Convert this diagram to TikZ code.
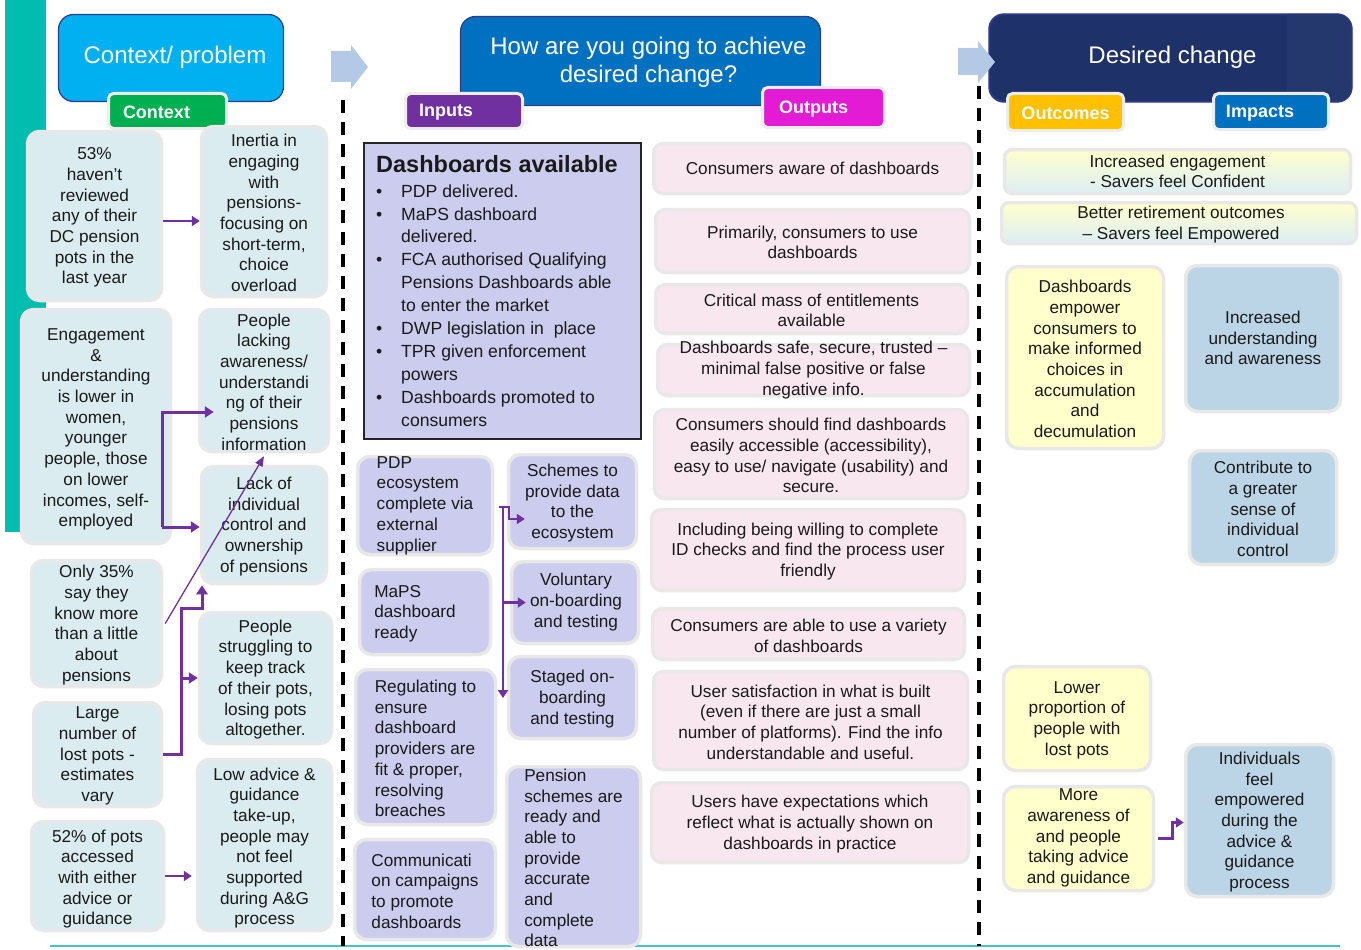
\documentclass[tikz,border=0pt]{standalone}
\usepackage{fontspec}
\setmainfont{Liberation Sans}
\usetikzlibrary{arrows.meta}
\definecolor{tealbar}{HTML}{00BDB0}
\definecolor{tealline}{HTML}{40C8C0}
\definecolor{cyanh}{HTML}{00B0F0}
\definecolor{blueh}{HTML}{0070C0}
\definecolor{navyh}{HTML}{1F3169}
\definecolor{navyh2}{HTML}{24386E}
\definecolor{hborder}{HTML}{2E3A8A}
\definecolor{greent}{HTML}{00B050}
\definecolor{purp}{HTML}{7030A0}
\definecolor{magt}{HTML}{E31BD4}
\definecolor{yelt}{HTML}{FFC000}
\definecolor{ctxfill}{HTML}{DAECEF}
\definecolor{lav}{HTML}{CCCCEE}
\definecolor{pinkf}{HTML}{F9E7EF}
\definecolor{yelf}{HTML}{FFFFCC}
\definecolor{impf}{HTML}{BCD5E6}
\definecolor{gradb}{HTML}{DCEEF4}
\definecolor{arrowblue}{HTML}{B3C9E5}
\definecolor{bgray}{HTML}{E8E8E8}
\definecolor{tgray}{HTML}{EDEDED}
\definecolor{txtcol}{HTML}{1A1A1A}
\newcommand\bodyfont{\fontsize{17.2}{20.7}\selectfont}
\newcommand\mybul{\makebox[25pt][l]{•}}
\newcommand\myind{\hspace*{25pt}}
\newcommand\mybx[8]{%
  \pgfmathsetmacro\bxw{#6-#4-3}%
  \pgfmathsetmacro\bxh{#7-#5-3}%
  \pgfmathsetmacro\bxx{(#4+#6)/2}%
  \pgfmathsetmacro\bxy{(#5+#7)/2}%
  \node[#2,minimum width=\bxw pt,minimum height=\bxh pt] (#1) at (\bxx,\bxy) {};%
  \node[#3] (#1-t) at (#1.center) {#8};%
}
\begin{document}
\begin{tikzpicture}[x=1pt,y=-1pt,
  sbox/.style={rounded corners=12pt, draw=bgray, line width=3.5pt, inner sep=0pt},
  sctx/.style={sbox, fill=ctxfill},
  sinp/.style={sbox, fill=lav},
  sout/.style={sbox, fill=pinkf, rounded corners=10pt},
  syel/.style={sbox, fill=yelf},
  simp/.style={sbox, fill=impf},
  sgrad/.style={sbox, top color=yelf, bottom color=gradb, rounded corners=8pt},
  shdr/.style={rounded corners=15pt, draw=hborder, line width=1.2pt, inner sep=0pt},
  stab/.style={rounded corners=5pt, draw=tgray, line width=3pt, inner sep=0pt},
  sdbox/.style={draw=black!85, line width=2pt, fill=lav, inner sep=0pt},
  stxt/.style={align=center, inner sep=0pt, font=\bodyfont, text=txtcol, yshift=-1.5pt},
  stxtl/.style={stxt, align=left},
  shtxt/.style={align=center, inner sep=0pt, font=\fontsize{24}{28}\selectfont, text=white},
  sttxt/.style={inner sep=0pt, font=\fontsize{18}{20}\selectfont\bfseries, text=white, yshift=-1.5pt},
  parr/.style={draw=purp, line width=3pt, -{Triangle[length=9pt,width=11pt]}},
  parr2/.style={draw=purp, line width=2.5pt, -{Triangle[length=8pt,width=10pt]}},
  pthin/.style={draw=purp, line width=1.3pt, -{Triangle[length=10pt,width=8pt]}},
  dashln/.style={draw=black, line width=3.5pt, dash pattern=on 13pt off 9pt},
  blockarr/.style={fill=arrowblue}
]
\useasboundingbox (0,0) rectangle (1361,950);
% background bars
\fill[tealbar] (5,0) rectangle (46,532);
\draw[tealline, line width=2pt] (50,946) -- (1340,946);
% headers
\mybx{hctx}{shdr,fill=cyanh}{shtxt,xshift=4pt,yshift=1pt}{57}{13}{285}{103}{Context/ problem}
\mybx{hmid}{shdr,fill=blueh}{shtxt,xshift=8pt,yshift=-1pt}{459}{15}{822}{107}{How are you going to achieve\\desired change?}
\mybx{hdes}{shdr,fill=navyh}{shtxt,xshift=2pt,yshift=1pt}{988}{13}{1353}{103}{Desired change}
\begin{scope}
  \clip[rounded corners=15pt] (hdes.south west) rectangle (hdes.north east);
  \fill[navyh2] (1287,0) rectangle (1361,110);
\end{scope}
\draw[hborder, line width=1.2pt, rounded corners=15pt] (hdes.south west) rectangle (hdes.north east);
% block arrows
\fill[blockarr] (331,51) -- (351,51) -- (351,45) -- (368,67) -- (351,89) -- (351,82) -- (331,82) -- cycle;
\fill[blockarr] (958,48) -- (978,48) -- (978,41) -- (995,62) -- (978,83) -- (978,75) -- (958,75) -- cycle;
% tabs
\mybx{tctx}{stab,fill=greent}{sttxt,xshift=-11pt}{107}{92}{228}{130}{Context}
\mybx{tin}{stab,fill=purp}{sttxt,xshift=-18pt}{404}{92}{524}{130}{Inputs}
\mybx{tout}{stab,fill=magt}{sttxt,xshift=-10pt}{761}{86}{886}{129}{Outputs}
\mybx{toc}{stab,fill=yelt}{sttxt}{1006}{92}{1125}{132}{Outcomes}
\mybx{timp}{stab,fill=blueh}{sttxt,xshift=-11pt}{1212}{92}{1330}{131}{Impacts}
% dashed dividers
\draw[dashln] (343,100) -- (343,946);
\draw[dashln] (979,86) -- (979,946);
% context column
\mybx{c1}{sctx}{stxt}{26}{130}{163}{302}{53\%\\haven’t\\reviewed\\any of their\\DC pension\\pots in the\\last year}
\mybx{c2}{sctx}{stxt,yshift=-1.5pt}{20}{308}{172}{545}{Engagement\\\&\\understanding\\is lower in\\women,\\younger\\people, those\\on lower\\incomes, self-\\employed}
\mybx{c3}{sctx}{stxt}{30}{559}{163}{688}{Only 35\%\\say they\\know more\\than a little\\about\\pensions}
\mybx{c4}{sctx}{stxt}{32}{701}{163}{808}{Large\\number of\\lost pots -\\estimates\\vary}
\mybx{c5}{sctx}{stxt,yshift=-1.5pt}{30}{820}{165}{932}{52\% of pots\\accessed\\with either\\advice or\\guidance}
\mybx{r1}{sctx}{stxt}{200}{125}{328}{298}{Inertia in\\engaging\\with\\pensions-\\focusing on\\short-term,\\choice\\overload}
\mybx{r2}{sctx}{stxt}{198}{308}{330}{453}{People\\lacking\\awareness/\\understandi\\ng of their\\pensions\\information}
\mybx{r3}{sctx}{stxt}{200}{465}{328}{585}{Lack of\\individual\\control and\\ownership\\of pensions}
\mybx{r4}{sctx}{stxt}{198}{611}{333}{745}{People\\struggling to\\keep track\\of their pots,\\losing pots\\altogether.}
\mybx{r5}{sctx}{stxt,yshift=-1.5pt}{196}{758}{333}{932}{Low advice \&\\guidance\\take-up,\\people may\\not feel\\supported\\during A\&G\\process}
% inputs
\node[sdbox, minimum width=277pt, minimum height=296pt] (dash) at (502.5,291) {};
\node[anchor=north west, align=left, inner sep=0pt, font=\fontsize{17.6}{22.9}\selectfont, text=txtcol] (dash-t) at (376,155)
 {{\fontsize{23.5}{22.9}\selectfont\bfseries Dashboards available}\\[2pt]
  \mybul PDP delivered.\\
  \mybul MaPS dashboard\\
  \myind delivered.\\
  \mybul FCA authorised Qualifying\\
  \myind Pensions Dashboards able\\
  \myind to enter the market\\
  \mybul DWP legislation in\ \ place\\
  \mybul TPR\ given\ enforcement\\
  \myind powers\\
  \mybul Dashboards promoted to\\
  \myind consumers};
\mybx{p1}{sinp}{stxtl,yshift=1.5pt}{356}{455}{494}{556}{PDP\\ecosystem\\complete via\\external\\supplier}
\mybx{p2}{sinp}{stxtl,xshift=-10pt}{358}{568}{492}{656}{MaPS\\dashboard\\ready}
\mybx{p3}{sinp}{stxtl}{354}{668}{497}{826}{Regulating to\\ensure\\dashboard\\providers are\\fit \& proper,\\resolving\\breaches}
\mybx{p4}{sinp}{stxtl}{353}{838}{497}{941}{Communicati\\on campaigns\\to promote\\dashboards}
\mybx{q1}{sinp}{stxt}{507}{453}{638}{550}{Schemes to\\provide data\\to the\\ecosystem}
\mybx{q2}{sinp}{stxt,xshift=1pt,yshift=2pt}{510}{560}{640}{645}{Voluntary\\on-boarding\\and testing}
\mybx{q3}{sinp}{stxt}{507}{655}{638}{740}{Staged on-\\boarding\\and testing}
\mybx{q4}{sinp}{stxtl}{505}{765}{642}{948}{Pension\\schemes are\\ready and\\able to\\provide\\accurate\\and\\complete\\data}
% outputs
\mybx{o1}{sout}{stxt,yshift=1.5pt}{652}{142}{973}{195}{Consumers aware of dashboards}
\mybx{o2}{sout}{stxt}{654}{208}{971}{274}{Primarily, consumers to use\\dashboards}
\mybx{o3}{sout}{stxt}{654}{283}{969}{335}{Critical mass of entitlements\\available}
\mybx{o4}{sout}{stxt,yshift=1.5pt}{656}{343}{971}{397}{Dashboards safe, secure, trusted –\\minimal false positive or false\\negative info.}
\mybx{o5}{sout}{stxt}{653}{408}{969}{500}{Consumers should find dashboards\\easily accessible (accessibility),\\easy to use/ navigate (usability) and\\secure.}
\mybx{o6}{sout}{stxt}{650}{508}{966}{592}{Including being willing to complete\\ID checks and find the process user\\friendly}
\mybx{o7}{sout}{stxt}{651}{607}{966}{661}{Consumers are able to use a variety\\of dashboards}
\mybx{o8}{sout}{stxt}{652}{670}{969}{771}{User satisfaction in what is built\\(even if there are just a small\\number of platforms). Find the info\\understandable and useful.}
\mybx{o9}{sout}{stxt}{650}{781}{970}{864}{Users have expectations which\\reflect what is actually shown on\\dashboards in practice}
% outcomes and impacts
\mybx{w1}{sgrad}{stxt,yshift=1.5pt}{1003}{148}{1352}{195}{Increased engagement\\- Savers feel Confident}
\mybx{w2}{sgrad}{stxt,xshift=2pt}{1000}{201}{1358}{245}{Better retirement outcomes\\– Savers feel Empowered}
\mybx{y1}{syel}{stxt}{1005}{265}{1165}{450}{Dashboards\\empower\\consumers to\\make informed\\choices in\\accumulation\\and\\decumulation}
\mybx{y2}{syel}{stxt}{1002}{665}{1152}{772}{Lower\\proportion of\\people with\\lost pots}
\mybx{y3}{syel}{stxt,yshift=2pt}{1002}{785}{1155}{892}{More\\awareness of\\and people\\taking advice\\and guidance}
\mybx{b1}{simp}{stxt,yshift=2pt}{1184}{264}{1342}{413}{Increased\\understanding\\and awareness}
\mybx{b2}{simp}{stxt}{1188}{449}{1338}{566}{Contribute to\\a greater\\sense of\\individual\\control}
\mybx{b3}{simp}{stxt}{1184}{743}{1335}{898}{Individuals\\feel\\empowered\\during the\\advice \&\\guidance\\process}
% connectors: context
\draw[parr2] ([yshift=-5pt]c1.east) -- ([yshift=-5pt]c1.east -| r1.west);
\coordinate (eb1) at (162,412);
\coordinate (eb2) at (162,527);
\draw[parr] (eb2) -- (eb1) -- ([xshift=16pt]eb1 -| r2.west);
\draw[parr] (eb2) -- (eb2 -| r3.west);
\draw[pthin] ([xshift=2pt]c3.east) -- ([yshift=-3pt]r2.south);
\coordinate (lpv) at (181,608);
\coordinate (lpt) at (202,608);
\draw[parr] (c4.east) -| (lpv) -- (lpt) -- (lpt |- r3.south);
\draw[parr] (r4.west -| lpv) -- (r4.west);
\draw[parr2] (c5.east) -- ([xshift=-4pt]c5.east -| r5.west);
% connectors: inputs
\coordinate (iv1) at (503,507);
\coordinate (iv2) at (503,698);
\draw[parr2] (iv1) -- (iv2);
\draw[parr2] ([xshift=-4pt]iv1) -- ++(10,0) -- ++(0,12) -- ([xshift=18pt]q1.west |- 0,519);
\draw[parr2] (iv1 |- q2.west) -- ([xshift=16pt]q2.west);
% connector: outcomes
\draw[parr2] ([xshift=3pt]y3.east) -- ++(14,0) |- ([yshift=-2pt]b3.west);
\end{tikzpicture}
\end{document}
